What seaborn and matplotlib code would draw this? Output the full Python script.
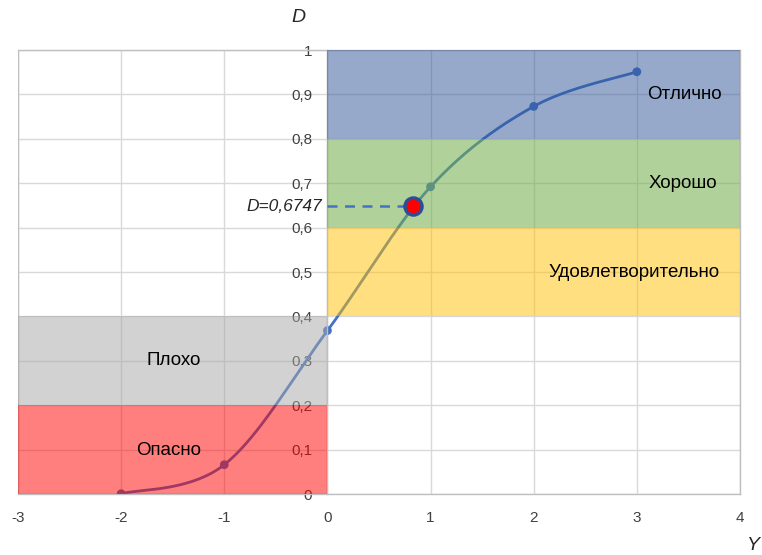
import numpy as np
import pandas as pd
import matplotlib
matplotlib.use("Agg")
import matplotlib.pyplot as plt
import seaborn as sns

# data
y_vals = [-2, -1, 0, 1, 2, 3]
d_vals = [0.0006, 0.066, 0.368, 0.692, 0.873, 0.951]
point_y = 0.83
point_d = 0.648
point_label = "D=0,6747"

zone_names = ["Опасно", "Плохо", "Удовлетворительно", "Хорошо", "Отлично"]
zone_x0 = [-3, -3, 0, 0, 0]
zone_x1 = [0, 0, 4, 4, 4]
zone_d0 = [0.0, 0.2, 0.4, 0.6, 0.8]
zone_d1 = [0.2, 0.4, 0.6, 0.8, 1.0]
zone_colors = ["#ff0000", "#a6a6a6", "#ffc000", "#70ad47", "#2f5597"]
zone_alpha = [0.5, 0.5, 0.5, 0.55, 0.5]
label_x = [-1.54, -1.49, 2.97, 3.45, 3.46]
label_d = [0.099, 0.30, 0.498, 0.70, 0.899]

x_ticks = [-3, -2, -1, 0, 1, 2, 3, 4]
d_ticks = [0, 0.1, 0.2, 0.3, 0.4, 0.5, 0.6, 0.7, 0.8, 0.9, 1]
d_tick_labels = ["0", "0,1", "0,2", "0,3", "0,4", "0,5", "0,6", "0,7", "0,8", "0,9", "1"]

sns.set_style("white")
plt.rcParams['font.family'] = ['Liberation Sans', 'DejaVu Sans']


def smooth(xs, ys, n=40):
    # Excel-like smoothed line (Catmull-Rom through the points)
    px = [xs[0]] + list(xs) + [xs[-1]]
    py = [ys[0]] + list(ys) + [ys[-1]]
    outx, outy = [], []
    t = np.linspace(0, 1, n)
    for i in range(1, len(px) - 2):
        p0, p1, p2, p3 = [np.array([px[j], py[j]]) for j in range(i - 1, i + 3)]
        c1 = p1 + (p2 - p0) / 6
        c2 = p2 - (p3 - p1) / 6
        b = ((1 - t) ** 3)[:, None] * p1 + (3 * (1 - t) ** 2 * t)[:, None] * c1 \
            + (3 * (1 - t) * t ** 2)[:, None] * c2 + (t ** 3)[:, None] * p2
        outx.extend(b[:, 0])
        outy.extend(b[:, 1])
    return np.array(outx), np.array(outy)


fig = plt.figure(figsize=(7.62, 5.55), dpi=100)
ax = fig.add_axes([18 / 762, 1 - 494 / 555, (740 - 18) / 762, (494 - 50) / 555])

df = pd.DataFrame({"Y": y_vals, "D": d_vals})
sx, sy = smooth(y_vals, d_vals)
ax.plot(sx, sy, color="#4472c4", lw=2, zorder=2)
sns.scatterplot(data=df, x="Y", y="D", color="#4472c4", s=40, edgecolor="none", ax=ax, zorder=2)

for i in range(len(zone_names)):
    ax.fill_between([zone_x0[i], zone_x1[i]], zone_d0[i], zone_d1[i],
                    color=zone_colors[i], alpha=zone_alpha[i], lw=0, zorder=3)
    ax.text(label_x[i], label_d[i], zone_names[i], fontsize=13.5, ha="center",
            va="center", color="black", zorder=5)

ax.plot([0, point_y], [point_d, point_d], ls=(0, (4, 3)), color="#4472c4", lw=1.8, zorder=4)
ax.scatter([point_y], [point_d], s=150, color="red", edgecolor="#2e4d99", linewidth=2.5, zorder=5)
ax.text(-0.05, point_d, point_label, fontsize=12.5, style="italic", ha="right", va="center", zorder=5)

ax.set_xlim(-3, 4)
ax.set_ylim(0, 1)
ax.set_xticks(x_ticks)
ax.set_xticklabels([str(v) for v in x_ticks])
ax.set_yticks(d_ticks)
ax.set_yticklabels(d_tick_labels)
ax.grid(True, color="#d9d9d9", lw=1, zorder=0)
ax.set_axisbelow(True)

ax.spines["left"].set_position(("data", 0))
for s in ax.spines.values():
    s.set_color("#bfbfbf")
    s.set_linewidth(1)
ax.axvline(-3, color="#bfbfbf", lw=1, zorder=1)
ax.tick_params(axis="both", length=0, labelsize=11, colors="#404040")
ax.tick_params(axis="x", pad=12)
ax.tick_params(axis="y", pad=11)
ax.set_xlabel("")
ax.set_ylabel("")

fig.text(298 / 762, 1 - 18 / 555, "D", fontsize=14, style="italic", ha="center", va="center")
fig.text(753 / 762, 1 - 545 / 555, "Y", fontsize=14, style="italic", ha="center", va="center")

fig.savefig("out.png", dpi=100)
